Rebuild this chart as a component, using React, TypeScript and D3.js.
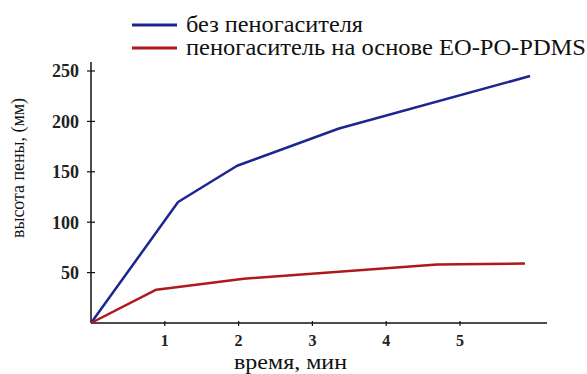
import React from 'react';
import * as d3 from 'd3';

// время, мин / высота пены, мм
const noDefoamerX = [0, 1.18, 1.98, 3.36, 5.95];
const noDefoamerY = [0, 120, 156, 193, 245];
const defoamerX = [0, 0.885, 2.07, 4.69, 5.88];
const defoamerY = [0, 33, 44, 58, 59];

const xTicks = [1, 2, 3, 4, 5];
const yTicks = [50, 100, 150, 200, 250];

const seriesNames = ['без пеногасителя', 'пеногаситель на основе EO-PO-PDMS'];
const seriesColors = ['#1c2690', '#b0191c'];
const legendWidths = [177, 400];

const width = 587;
const height = 374;

const App = () => {
  const x = d3.scaleLinear().domain([0, 5]).range([91, 460]);
  const y = d3.scaleLinear().domain([0, 250]).range([323, 71]);

  const line = d3
    .line<[number, number]>()
    .x((d) => x(d[0]))
    .y((d) => y(d[1]));

  const series = [
    d3.zip(noDefoamerX, noDefoamerY) as [number, number][],
    d3.zip(defoamerX, defoamerY) as [number, number][],
  ];

  const serif = '"Liberation Serif", "Times New Roman", serif';

  return (
    <svg
      width={width}
      height={height}
      style={{ position: 'absolute', left: 0, top: 0, background: '#fff' }}
      fontFamily={serif}
    >
      {/* legend */}
      {seriesNames.map((name, i) => (
        <g key={name} transform={`translate(0, ${25 + i * 23})`}>
          <line x1={132} x2={177} y1={0} y2={0} stroke={seriesColors[i]} strokeWidth={3} />
          <text
            x={186}
            y={7}
            fontSize={23}
            fill="#111"
            textLength={legendWidths[i]}
            lengthAdjust="spacingAndGlyphs"
          >
            {name}
          </text>
        </g>
      ))}

      {/* axes */}
      <line x1={x(0)} x2={x(0)} y1={62} y2={y(0)} stroke="#111" strokeWidth={1.5} />
      <line x1={x(0)} x2={547} y1={y(0)} y2={y(0)} stroke="#111" strokeWidth={1.5} />

      {yTicks.map((t) => (
        <g key={t} transform={`translate(0, ${y(t)})`}>
          <line x1={x(0) - 4} x2={x(0) + 4} stroke="#111" strokeWidth={1.2} />
          <text x={79} dy="0.35em" textAnchor="end" fontSize={18} fontWeight="bold" fill="#222">
            {t}
          </text>
        </g>
      ))}

      {xTicks.map((t) => (
        <g key={t} transform={`translate(${x(t)}, 0)`}>
          <line y1={y(0) - 2} y2={y(0) + 3} stroke="#111" strokeWidth={1.2} />
          <text y={346} textAnchor="middle" fontSize={16} fontWeight="bold" fill="#222">
            {t}
          </text>
        </g>
      ))}

      {/* series */}
      {series.map((pts, i) => (
        <path
          key={i}
          d={line(pts) ?? ''}
          fill="none"
          stroke={seriesColors[i]}
          strokeWidth={2.5}
          strokeLinejoin="round"
        />
      ))}

      {/* axis titles */}
      <text
        x={234}
        y={369}
        fontSize={21}
        fill="#111"
        textLength={113}
        lengthAdjust="spacingAndGlyphs"
      >
        время, мин
      </text>
      <text
        transform="translate(24, 238) rotate(-90)"
        fontSize={19}
        fill="#111"
        textLength={140}
        lengthAdjust="spacingAndGlyphs"
      >
        высота пены, (мм)
      </text>
    </svg>
  );
};

export default App;
